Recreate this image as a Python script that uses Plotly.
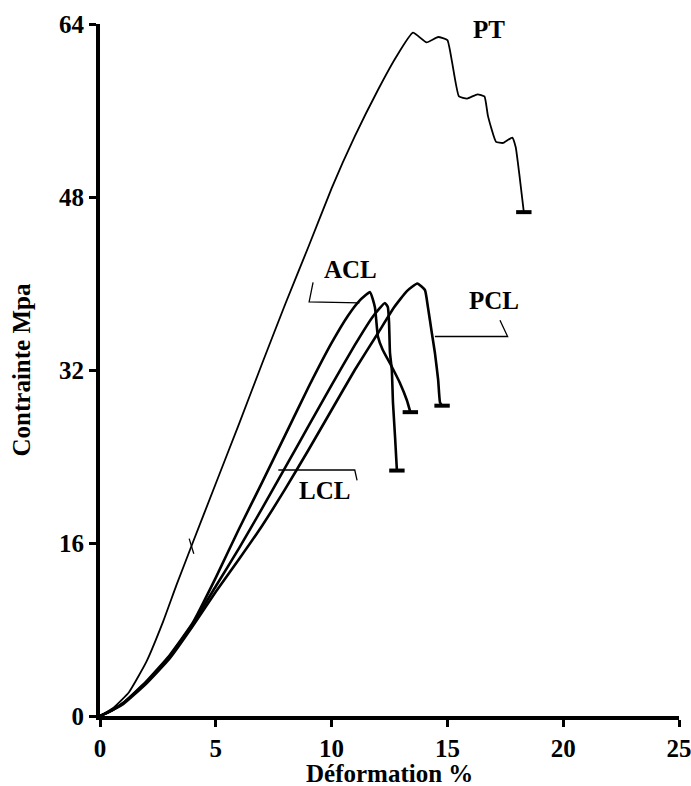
import plotly.graph_objects as go

# ---- data (strain %, stress MPa) ----
pt_x = [0, 0.6, 1.25, 2.0, 2.72, 3.3, 4.0, 5.0, 6.0, 7.0, 8.0, 9.0, 10.0, 11.0, 12.0, 12.8, 13.51,
        14.1, 14.6, 15.0, 15.2, 15.5, 15.85, 16.3, 16.6, 16.75, 17.1, 17.4, 17.8, 17.95, 18.1, 18.3]
pt_y = [0, 0.8, 2.2, 5.0, 8.7, 12.1, 16.0, 21.5, 27.0, 32.6, 38.1, 43.4, 48.8, 53.6, 57.9, 61.0, 63.2,
        62.3, 62.8, 62.5, 60.5, 57.3, 57.1, 57.5, 57.3, 55.5, 53.1, 53.0, 53.5, 52.6, 50.2, 46.6]

acl_x = [0, 0.5, 1, 2, 3, 4, 5, 6, 7, 8, 9, 10, 10.7, 11.2, 11.66, 11.87, 12.0, 12.2, 12.6, 12.95, 13.25, 13.4]
acl_y = [0, 0.5, 1.2, 3.2, 5.6, 8.6, 12.8, 17.3, 21.6, 26.0, 30.4, 34.5, 37.0, 38.4, 39.2, 37.8, 35.1, 33.9, 32.3, 30.8, 29.2, 28.1]

lcl_x = [0, 0.5, 1, 2, 3, 4, 5, 6, 7, 8, 9, 10, 11, 11.8, 12.3, 12.43, 12.48, 12.52, 12.6, 12.65, 12.74, 12.82]
lcl_y = [0, 0.5, 1.2, 3.1, 5.5, 8.5, 12.0, 15.5, 19.2, 23.0, 26.8, 30.6, 34.3, 37.0, 38.2, 37.8, 36.4, 33.6, 32.0, 29.0, 25.8, 22.7]

pcl_x = [0, 1, 2, 3, 4, 5, 6, 7, 8, 9, 10, 11, 12, 12.7, 13.25, 13.7, 14.03, 14.16, 14.33, 14.46, 14.6, 14.68, 14.77]
pcl_y = [0, 1.1, 3.0, 5.3, 8.3, 11.5, 14.5, 17.6, 21.0, 24.6, 28.3, 32.0, 35.4, 37.8, 39.3, 40.0, 39.4, 37.8, 35.4, 33.6, 31.1, 29.0, 28.7]

# label positions and leader lines
labels = ["PT", "ACL", "PCL", "LCL"]
label_x = [16.8, 10.8, 17.0, 9.7]
label_y = [63.5, 41.3, 38.4, 20.9]

acl_lead_x = [9.2, 9.03, 11.2]
acl_lead_y = [40.1, 38.3, 38.2]
pcl_lead_x = [17.27, 17.6, 14.46]
pcl_lead_y = [36.6, 35.1, 35.1]
lcl_lead_x = [7.7, 11.0, 11.1]
lcl_lead_y = [22.75, 22.75, 21.8]
pt_mark_x = [3.85, 4.05]
pt_mark_y = [16.4, 15.0]

x_ticks = [0, 5, 10, 15, 20, 25]
y_ticks = [0, 16, 32, 48, 64]

FONT = "Liberation Serif"
FS = 25

fig = go.Figure()

def curve(xs, ys, w):
    fig.add_trace(go.Scatter(x=xs, y=ys, mode="lines",
                             line=dict(color="black", width=w, shape="spline", smoothing=0.4),
                             showlegend=False, hoverinfo="skip"))
    # end cap
    fig.add_trace(go.Scatter(x=[xs[-1]], y=[ys[-1]], mode="markers",
                             marker=dict(symbol="line-ew", size=11, line=dict(color="black", width=4)),
                             showlegend=False, hoverinfo="skip"))

curve(pt_x, pt_y, 1.8)
curve(acl_x, acl_y, 2.6)
curve(lcl_x, lcl_y, 2.6)
curve(pcl_x, pcl_y, 2.6)

for lx, ly in [(acl_lead_x, acl_lead_y), (pcl_lead_x, pcl_lead_y), (lcl_lead_x, lcl_lead_y),
               (pt_mark_x, pt_mark_y)]:
    fig.add_trace(go.Scatter(x=lx, y=ly, mode="lines", line=dict(color="black", width=1.3),
                             showlegend=False, hoverinfo="skip"))

for t, x, y in zip(labels, label_x, label_y):
    fig.add_annotation(x=x, y=y, text="<b>%s</b>" % t, showarrow=False,
                       font=dict(family=FONT, size=FS, color="black"))

# x-axis title placed below the tick labels
fig.add_annotation(xref="paper", yref="paper", x=0.5, y=-0.083, yanchor="middle",
                   text="<b>Déformation %</b>", showarrow=False,
                   font=dict(family=FONT, size=FS, color="black"))

axis_common = dict(showgrid=False, zeroline=False, showline=True, linecolor="black", linewidth=4,
                   ticks="outside", ticklen=7, tickwidth=2.5, tickcolor="black", automargin=False,
                   ticklabeloverflow="allow",
                   tickfont=dict(family=FONT, size=FS, color="black"))

fig.update_xaxes(range=[0, 25], tickvals=x_ticks, ticktext=["<b>%d</b>" % v for v in x_ticks],
                 **axis_common)
fig.update_yaxes(range=[0, 64], tickvals=y_ticks, ticktext=["<b>%d</b>" % v for v in y_ticks],
                 title=dict(text="<b>Contrainte Mpa</b>", font=dict(family=FONT, size=FS, color="black"), standoff=22),
                 **axis_common)

fig.update_layout(width=691, height=786, margin=dict(l=100, r=12, t=24, b=70),
                  plot_bgcolor="white", paper_bgcolor="white")

fig.write_html("out.html")
